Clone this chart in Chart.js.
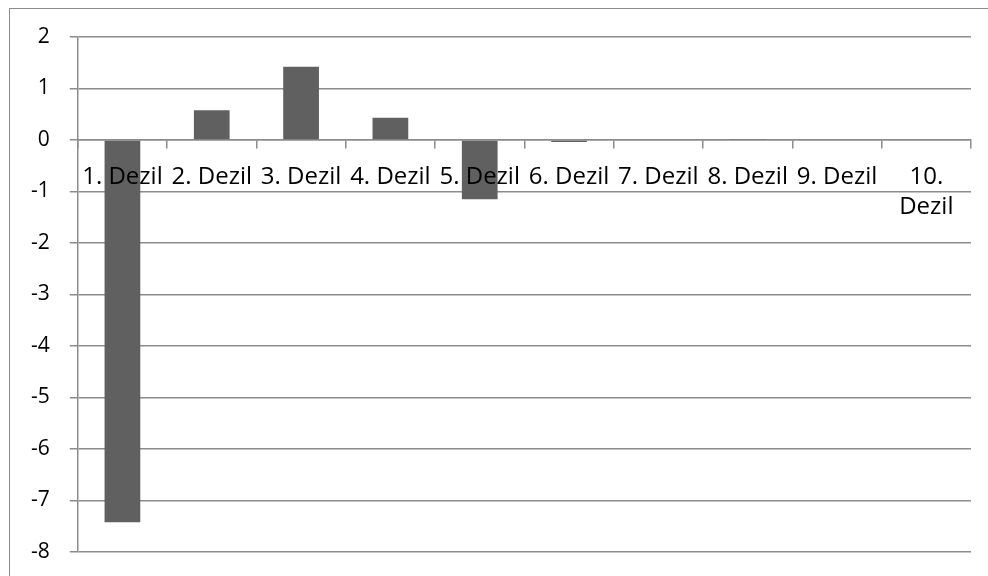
<!DOCTYPE html>
<html>
<head>
<meta charset="utf-8">
<script src="https://cdn.jsdelivr.net/npm/chart.js@4/dist/chart.umd.min.js"></script>
<style>
  html, body { margin: 0; padding: 0; background: #fff; }
  #wrap { position: relative; width: 988px; height: 576px; }
  #frame { position: absolute; left: 9px; top: 8px; right: -2px; bottom: -2px; border-left: 1.5px solid #8c8c8c; border-top: 1.5px solid #8c8c8c; }
  canvas { position: absolute; left: 0; top: 0; }
</style>
</head>
<body>
<div id="wrap">
  <div id="frame"></div>
  <canvas id="chart" width="988" height="576"></canvas>
</div>
<script>
// Dezil categories and values
const categories = ["1. Dezil", "2. Dezil", "3. Dezil", "4. Dezil", "5. Dezil", "6. Dezil", "7. Dezil", "8. Dezil", "9. Dezil", ["10.", "Dezil"]];
const values = [-7.42, 0.58, 1.42, 0.43, -1.15, -0.04, 0, 0.01, 0, 0];
const yTicks = [2, 1, 0, -1, -2, -3, -4, -5, -6, -7, -8];

const gridColor = "#8c8c8c";
const fontFamily = "'Open Sans', 'Noto Sans', sans-serif";

const ctx = document.getElementById("chart").getContext("2d");
new Chart(ctx, {
  type: "bar",
  data: {
    labels: categories,
    datasets: [{
      data: values,
      backgroundColor: "#606060",
      borderWidth: 0,
      barPercentage: 0.4,
      categoryPercentage: 1
    }]
  },
  options: {
    responsive: false,
    animation: false,
    layout: { padding: { left: 11, right: 17, top: 37, bottom: 24 } },
    plugins: { legend: { display: false }, tooltip: { enabled: false } },
    scales: {
      x: {
        position: { y: 0 },
        offset: true,
        grid: { offset: true, drawOnChartArea: false, drawTicks: true, tickLength: 8, color: gridColor, lineWidth: 1.5 },
        border: { color: gridColor, width: 1.5 },
        // labels sit on top of the bars, like in the original
        ticks: { z: 1, color: "#000", font: { family: fontFamily, size: 24, lineHeight: 1.25 }, padding: 14, maxRotation: 0, autoSkip: false }
      },
      y: {
        min: Math.min(...yTicks),
        max: Math.max(...yTicks),
        afterBuildTicks: (axis) => { axis.ticks = yTicks.map(v => ({ value: v })); },
        // tick padding would otherwise push the plot bottom up
        afterFit: (axis) => { axis.paddingTop = 0; axis.paddingBottom = 0; },
        grid: { color: gridColor, lineWidth: 1.5, tickLength: 8 },
        border: { color: gridColor, width: 1.5 },
        ticks: { color: "#000", font: { family: fontFamily, size: 21 }, padding: 20 }
      }
    }
  }
});
</script>
</body>
</html>
